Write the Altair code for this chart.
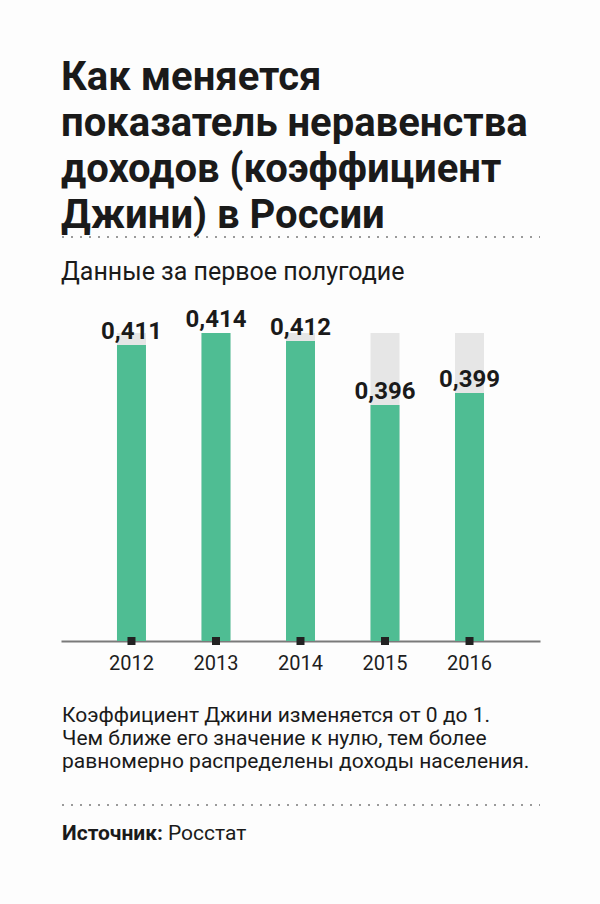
import altair as alt
import pandas as pd

# ---- data ----
years = ["2012", "2013", "2014", "2015", "2016"]
gini = [0.411, 0.414, 0.412, 0.396, 0.399]

title_lines = ["Как меняется", "показатель неравенства", "доходов (коэффициент", "Джини) в России"]
subtitle_text = "Данные за первое полугодие"
note_lines = [
    "Коэффициент Джини изменяется от 0 до 1.",
    "Чем ближе его значение к нулю, тем более",
    "равномерно распределены доходы населения.",
]
source_label = "Источник:"
source_name = "Росстат"

y_min = 0.337
y_max = 0.42225

W, H = 479, 341
GREEN = "#4fbd93"
GRAY = "#e6e6e6"
INK = "#1a1a1a"
FONT = "Roboto"

df = pd.DataFrame({"year": years, "gini": gini})

base = (
    alt.Chart(df)
    .transform_calculate(
        label="replace(format(datum.gini, '.3f'), '.', ',')",
        base=str(y_min),
    )
    .transform_joinaggregate(top="max(gini)")
)

x = alt.X(
    "year:N",
    sort=years,
    scale=alt.Scale(paddingInner=0, paddingOuter=0.334),
    axis=alt.Axis(
        title=None, labelAngle=0, domainColor="#7a7a7a", domainWidth=2,
        ticks=False, grid=False, labelFontSize=20, labelFont=FONT,
        labelColor="#1e1e1e", labelPadding=12,
    ),
)
yscale = alt.Scale(domain=[y_min, y_max], zero=False, nice=False)

bg = base.mark_bar(color=GRAY, size=29).encode(
    x=x, y=alt.Y("top:Q", scale=yscale, axis=None), y2="base:Q"
)
bars = base.mark_bar(color=GREEN, size=29).encode(
    x=x, y=alt.Y("gini:Q", scale=yscale, axis=None), y2="base:Q"
)
labels = base.mark_text(
    font=FONT, fontWeight="bold", fontSize=24, baseline="alphabetic",
    dy=-6, color=INK,
).encode(x=x, y=alt.Y("gini:Q", scale=yscale, axis=None), text="label:N")
squares = base.mark_square(size=64, color="#222222", opacity=1, filled=True).encode(
    x=x, y=alt.Y("base:Q", scale=yscale, axis=None)
)

one = pd.DataFrame({"k": [0]})
dots_top = alt.Chart(one).mark_rule(strokeDash=[2, 7], strokeWidth=2, color="#9a9a9a").encode(
    x=alt.value(1), x2=alt.value(W), y=alt.value(-63)
)
dots_bottom = alt.Chart(one).mark_rule(strokeDash=[2, 7], strokeWidth=2, color="#9a9a9a").encode(
    x=alt.value(1), x2=alt.value(W), y=alt.value(505)
)

title_txt = alt.Chart(one).mark_text(
    font=FONT, fontWeight="bold", fontSize=40, lineHeight=46,
    align="left", baseline="alphabetic", color=INK,
).encode(x=alt.value(0), y=alt.value(-210), text=alt.value(title_lines))

subtitle_txt = alt.Chart(one).mark_text(
    font=FONT, fontSize=25, align="left", baseline="alphabetic", color=INK,
).encode(x=alt.value(0), y=alt.value(-20), text=alt.value(subtitle_text))

note_txt = alt.Chart(one).mark_text(
    font=FONT, fontSize=21, lineHeight=23, align="left", baseline="alphabetic", color=INK,
).encode(x=alt.value(1), y=alt.value(422), text=alt.value(note_lines))

src_bold = alt.Chart(one).mark_text(
    font=FONT, fontSize=21, fontWeight="bold", align="left", baseline="alphabetic", color=INK,
).encode(x=alt.value(1), y=alt.value(540), text=alt.value(source_label))
src_reg = alt.Chart(one).mark_text(
    font=FONT, fontSize=21, align="left", baseline="alphabetic", color=INK,
).encode(x=alt.value(107), y=alt.value(540), text=alt.value(source_name))

chart = (
    alt.layer(bg, bars, labels, squares, dots_top, dots_bottom, title_txt,
              subtitle_txt, note_txt, src_bold, src_reg)
    .properties(
        width=W, height=H,
        autosize=alt.AutoSizeParams(type="none"),
        padding={"left": 61, "top": 300, "right": 60, "bottom": 263},
        background="#fdfdfd",
    )
    .configure_view(stroke=None)
)

chart.save("out.html", embed_options={"renderer": "svg", "actions": False})
